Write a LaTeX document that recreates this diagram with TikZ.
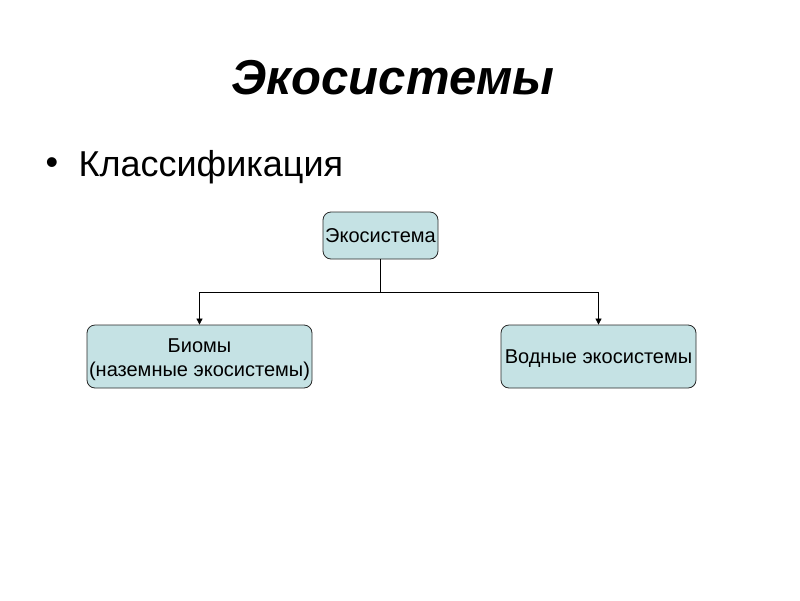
\documentclass[tikz,border=0pt]{standalone}
\usepackage{fontspec}
\setmainfont{Liberation Sans}
\usetikzlibrary{arrows.meta,calc}

\definecolor{boxfill}{RGB}{197,226,228}
\tikzset{
  eco box/.style={draw={rgb,255:red,40;green,40;blue,40}, line width=0.8pt, fill=boxfill, rounded corners=8pt, inner sep=0pt},
  eco text/.style={inner sep=0pt, align=center, font=\fontsize{20}{24}\selectfont},
  eco link/.style={draw=black, line width=0.75pt, -{Triangle[length=6pt,width=6pt]}}
}

\begin{document}
\begin{tikzpicture}[x=1pt,y=1pt,yscale=-1,xscale=1]
\useasboundingbox (0,0) rectangle (800,600);

% Title
\node (title) at (393,78) {\fontsize{49}{56}\selectfont\bfseries\itshape Экосистемы};
% Bullet line
\node (dot) at (52,166) {\fontsize{36}{42}\selectfont •};
\node[anchor=west] (klass) at (75,167) {\fontsize{36}{42}\selectfont Классификация};

%Shape: Rounded Rect
\node[eco box, minimum width=115pt, minimum height=47pt] (eco) at (380.5,235.5) {};
\node[eco text] (ecotxt) at (eco) {Экосистема};
%Shape: Rounded Rect
\node[eco box, minimum width=225pt, minimum height=63pt] (biom) at (199.5,356.5) {};
\node[eco text] (biomtxt) at ([yshift=3pt]biom) {Биомы\\(наземные экосистемы)};
%Shape: Rounded Rect
\node[eco box, minimum width=195pt, minimum height=63pt] (vod) at (598.5,356.5) {};
\node[eco text] (vodtxt) at ([yshift=2pt]vod) {Водные экосистемы};

%Straight Lines
\coordinate (split) at ($(eco.south)+(0,33)$);
\draw[line width=0.75pt] (eco.south) -- (split);
\draw[eco link] (split) -| (biom.north);
\draw[eco link] (split) -| (vod.north);

\end{tikzpicture}
\end{document}
